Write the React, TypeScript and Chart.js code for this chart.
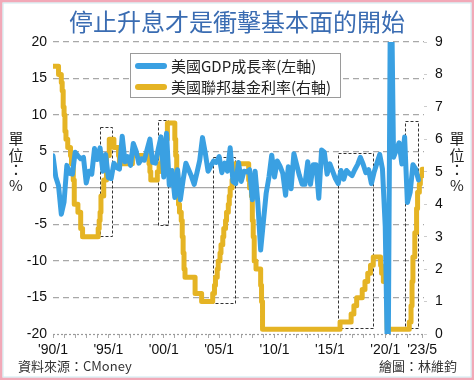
import React, { useEffect, useRef } from "react";
import { Chart, registerables } from "chart.js";

Chart.register(...registerables);

const TITLE = "停止升息才是衝擊基本面的開始";
const SOURCE = "資料來源：CMoney";
const CREDIT = "繪圖：林維鈞";
const LEGEND_GDP = "美國GDP成長率(左軸)";
const LEGEND_FED = "美國聯邦基金利率(右軸)";
const UNIT_CHARS = ["單", "位", "：", "%"];

const xTickValues = [1990, 1995, 2000, 2005, 2010, 2015, 2020, 2023.33];
const xTickLabels = ["'90/1", "'95/1", "'00/1", "'05/1", "'10/1", "'15/1", "'20/1", "'23/5"];
const xMinorYears = [
  1991, 1992, 1993, 1994, 1996, 1997, 1998, 1999, 2001, 2002, 2003, 2004, 2006, 2007, 2008, 2009,
  2011, 2012, 2013, 2014, 2016, 2017, 2018, 2019, 2021, 2022,
];

// US real GDP growth, quarterly (annualized %), 1990Q1 .. 2023Q1
const gdpFirstYear = 1990;
const gdpGrowth = [
  4.4, 1.5, 0.3, -3.6,
  -1.9, 3.1, 2.0, 1.9,
  4.9, 4.4, 4.0, 4.2,
  0.7, 2.3, 1.9, 5.4,
  3.9, 5.5, 2.3, 4.6,
  1.4, 1.3, 3.4, 2.8,
  2.6, 7.1, 3.6, 4.3,
  3.1, 6.1, 5.1, 3.4,
  4.0, 3.8, 5.3, 6.7,
  3.5, 3.4, 5.3, 7.0,
  1.5, 7.5, 0.4, 2.4,
  -1.3, 2.5, -1.6, 1.1,
  3.4, 2.5, 1.6, 0.5,
  2.1, 3.8, 6.9, 4.8,
  2.3, 3.0, 3.7, 3.5,
  4.3, 2.1, 3.4, 2.3,
  5.5, 0.9, 0.6, 3.5,
  0.9, 2.3, 2.2, 2.5,
  -1.6, 2.3, -2.1, -8.5,
  -4.6, -0.7, 1.5, 4.5,
  1.5, 3.7, 3.0, 2.0,
  -1.0, 2.9, -0.1, 4.7,
  3.2, 1.7, 0.5, 0.5,
  3.6, 0.5, 3.2, 3.2,
  -1.4, 5.2, 4.9, 1.9,
  3.3, 2.3, 1.3, 0.6,
  2.4, 1.2, 2.4, 2.0,
  1.7, 2.5, 3.2, 4.2,
  3.3, 2.1, 2.5, 0.6,
  2.2, 3.4, 4.6, 2.6,
  -5.3, -28.0, 34.8, 4.2,
  5.2, 6.2, 3.3, 7.0,
  -2.0, -0.6, 3.2, 2.6,
  1.1,
];

// Fed funds rate change points (decimal year, % level from that date)
const fedDates = [
  1990.0, 1990.5, 1990.75, 1990.83, 1990.92,
  1991.0, 1991.08, 1991.17, 1991.33, 1991.58, 1991.67, 1991.83, 1991.92,
  1992.25, 1992.5, 1992.67,
  1994.08, 1994.17, 1994.25, 1994.33, 1994.58, 1994.83, 1995.08,
  1995.5, 1995.92, 1996.0, 1997.17,
  1998.67, 1998.75, 1998.83,
  1999.42, 1999.58, 1999.83, 2000.08, 2000.17, 2000.33,
  2001.0, 2001.08, 2001.17, 2001.25, 2001.33, 2001.42, 2001.58, 2001.67, 2001.75, 2001.83, 2001.92,
  2002.83, 2003.42,
  2004.42, 2004.58, 2004.67, 2004.83, 2004.92,
  2005.08, 2005.17, 2005.33, 2005.42, 2005.58, 2005.67, 2005.83, 2005.92,
  2006.0, 2006.17, 2006.33, 2006.42,
  2007.67, 2007.75, 2007.92,
  2008.0, 2008.08, 2008.17, 2008.33, 2008.75, 2008.83, 2008.92,
  2015.92, 2016.92, 2017.17, 2017.42, 2017.92,
  2018.17, 2018.42, 2018.67, 2018.92,
  2019.58, 2019.67, 2019.83, 2020.17,
  2022.17, 2022.33, 2022.42, 2022.5, 2022.67, 2022.83, 2022.92,
  2023.08, 2023.17, 2023.33, 2023.45,
];
const fedRates = [
  8.25, 8.0, 7.75, 7.5, 7.0,
  6.75, 6.25, 6.0, 5.75, 5.5, 5.25, 4.75, 4.0,
  3.75, 3.25, 3.0,
  3.25, 3.5, 3.75, 4.25, 4.75, 5.5, 6.0,
  5.75, 5.5, 5.25, 5.5,
  5.25, 5.0, 4.75,
  5.0, 5.25, 5.5, 5.75, 6.0, 6.5,
  6.0, 5.5, 5.0, 4.5, 4.0, 3.75, 3.5, 3.0, 2.5, 2.0, 1.75,
  1.25, 1.0,
  1.25, 1.5, 1.75, 2.0, 2.25,
  2.5, 2.75, 3.0, 3.25, 3.5, 3.75, 4.0, 4.25,
  4.5, 4.75, 5.0, 5.25,
  4.75, 4.5, 4.25,
  3.5, 3.0, 2.25, 2.0, 1.5, 1.0, 0.15,
  0.37, 0.62, 0.87, 1.12, 1.37,
  1.62, 1.87, 2.12, 2.37,
  2.12, 1.87, 1.62, 0.15,
  0.37, 0.87, 1.62, 2.37, 3.12, 3.87, 4.37,
  4.62, 4.87, 5.08, 5.08,
];

// Rate-hike periods (dashed boxes), in years and right-axis %
const hikeStart = [1994.24, 1999.48, 2004.45, 2015.73, 2021.78];
const hikeEnd = [1995.33, 2000.38, 2006.43, 2018.89, 2022.96];
const hikeLow = [3.02, 3.36, 0.96, 0.18, 0.18];
const hikeHigh = [6.38, 6.6, 5.46, 5.58, 6.57];

const BLUE = "#3aa0e2";
const YELLOW = "#e5b424";
const CJK = '"Noto Sans CJK TC", "Noto Sans", sans-serif';
const NUM = '"Liberation Sans", Arial, sans-serif';

const decor = {
  id: "decor",
  beforeDraw(chart: any) {
    const ctx = chart.ctx;
    ctx.save();
    ctx.fillStyle = "#ffffff";
    ctx.fillRect(0, 0, chart.width, chart.height);
    ctx.restore();
  },
  beforeDatasetsDraw(chart: any) {
    const ctx = chart.ctx;
    const xs = chart.scales.x;
    const y1 = chart.scales.y1;
    const area = chart.chartArea;
    ctx.save();
    ctx.strokeStyle = "#9a9a9a";
    ctx.lineWidth = 1.2;
    ctx.setLineDash([2, 2]);
    ctx.beginPath();
    ctx.moveTo(area.left, Math.round(area.bottom) + 0.5);
    ctx.lineTo(area.right, Math.round(area.bottom) + 0.5);
    ctx.stroke();
    ctx.strokeStyle = "#333333";
    ctx.lineWidth = 1;
    ctx.setLineDash([3, 2]);
    for (let i = 0; i < hikeStart.length; i++) {
      const l = Math.round(xs.getPixelForValue(hikeStart[i])) + 0.5;
      const r = Math.round(xs.getPixelForValue(hikeEnd[i])) + 0.5;
      const t = Math.round(y1.getPixelForValue(hikeHigh[i])) + 0.5;
      const b = Math.round(y1.getPixelForValue(hikeLow[i])) + 0.5;
      ctx.strokeRect(l, t, r - l, b - t);
    }
    ctx.restore();
  },
  afterDraw(chart: any) {
    const ctx = chart.ctx;
    const W = chart.width;
    const H = chart.height;
    ctx.save();
    ctx.setLineDash([]);
    ctx.fillStyle = "#3a6cb2";
    ctx.font = `400 24px ${CJK}`;
    ctx.textAlign = "center";
    ctx.textBaseline = "middle";
    ctx.fillText(TITLE, 237, 22);

    ctx.fillStyle = "#ffffff";
    ctx.fillRect(130.5, 53.5, 210, 44);
    ctx.strokeStyle = "#9a9a9a";
    ctx.lineWidth = 1;
    ctx.strokeRect(130.5, 53.5, 210, 44);
    ctx.lineCap = "round";
    ctx.lineWidth = 6;
    ctx.strokeStyle = BLUE;
    ctx.beginPath();
    ctx.moveTo(138, 66);
    ctx.lineTo(164, 66);
    ctx.stroke();
    ctx.strokeStyle = YELLOW;
    ctx.beginPath();
    ctx.moveTo(138, 87);
    ctx.lineTo(164, 87);
    ctx.stroke();
    ctx.fillStyle = "#222222";
    ctx.font = `15px ${CJK}`;
    ctx.textAlign = "left";
    ctx.fillText(LEGEND_GDP, 171, 66);
    ctx.fillText(LEGEND_FED, 171, 87);

    ctx.font = `15px ${CJK}`;
    ctx.textAlign = "center";
    const ys = [138, 155, 169, 185];
    UNIT_CHARS.forEach((c, i) => {
      ctx.fillText(c, 16, ys[i]);
      ctx.fillText(c, 457, ys[i]);
    });

    ctx.fillStyle = "#333333";
    ctx.font = `13px ${CJK}`;
    ctx.textAlign = "left";
    ctx.fillText(SOURCE, 18, 366);
    ctx.textAlign = "right";
    ctx.fillText(CREDIT, 457, 366);

    ctx.strokeStyle = "#f2a9b8";
    ctx.lineWidth = 2.5;
    ctx.strokeRect(1.25, 1.25, W - 2.5, H - 2.5);
    ctx.strokeStyle = "#cbeaf0";
    ctx.lineWidth = 1;
    ctx.strokeRect(3, 3, W - 6, H - 6);
    ctx.restore();
  },
};

export default function App() {
  const ref = useRef<HTMLCanvasElement | null>(null);

  useEffect(() => {
    document.body.style.margin = "0";
    const canvas = ref.current;
    if (!canvas) return;
    const gdpPoints = gdpGrowth.map((v, i) => ({ x: gdpFirstYear + i * 0.25, y: v }));
    const fedPoints = fedRates.map((v, i) => ({ x: fedDates[i], y: v }));
    const allX = [...xTickValues, ...xMinorYears].sort((a, b) => a - b);

    const chart = new Chart(canvas, {
      type: "line",
      data: {
        datasets: [
          {
            label: LEGEND_GDP,
            data: gdpPoints,
            yAxisID: "y",
            borderColor: BLUE,
            backgroundColor: BLUE,
            borderWidth: 5,
            pointRadius: 0,
            tension: 0,
            borderJoinStyle: "round",
            borderCapStyle: "round",
            clip: 0,
          },
          {
            label: LEGEND_FED,
            data: fedPoints,
            yAxisID: "y1",
            borderColor: YELLOW,
            backgroundColor: YELLOW,
            borderWidth: 5,
            pointRadius: 0,
            stepped: "before",
            borderJoinStyle: "round",
            borderCapStyle: "round",
            clip: 0,
          },
        ],
      },
      options: {
        animation: false,
        responsive: false,
        layout: { padding: { top: 42, left: 0, right: 0, bottom: 0 } },
        plugins: {
          legend: { display: false },
          tooltip: { enabled: false },
          title: { display: false },
        },
        scales: {
          x: {
            type: "linear",
            min: 1990,
            max: 2023.5,
            afterBuildTicks: (s: any) => {
              s.ticks = allX.map((v) => ({ value: v }));
            },
            afterFit: (s: any) => {
              s.height = 46;
            },
            ticks: {
              autoSkip: false,
              maxRotation: 0,
              minRotation: 0,
              padding: 4,
              color: "#111111",
              font: { family: NUM, size: 14 },
              callback: (v: any) => {
                const idx = xTickValues.indexOf(Number(v));
                return idx >= 0 ? xTickLabels[idx] : "";
              },
            },
            grid: {
              drawOnChartArea: false,
              drawTicks: true,
              tickLength: 4,
              color: "#aaaaaa",
              lineWidth: 1,
            },
            border: { display: false },
          },
          y: {
            position: "left",
            min: -20,
            max: 20,
            afterFit: (s: any) => {
              s.width = 53;
            },
            ticks: {
              stepSize: 5,
              padding: 6,
              color: "#111111",
              font: { family: NUM, size: 14 },
            },
            grid: {
              drawTicks: false,
              color: (c: any) => (c.tick && c.tick.value === -20 ? "rgba(0,0,0,0)" : "#a8a8a8"),
              lineWidth: 1.3,
            },
            border: {
              display: false,
              dash: (c: any) => (c.tick && c.tick.value === 0 ? [] : [6, 4]),
            },
          },
          y1: {
            position: "right",
            min: 0,
            max: 9,
            afterFit: (s: any) => {
              s.width = 50;
            },
            ticks: {
              stepSize: 1,
              padding: 8,
              color: "#111111",
              font: { family: NUM, size: 14 },
            },
            grid: {
              drawOnChartArea: false,
              drawTicks: true,
              tickLength: 3,
              color: "#cccccc",
            },
            border: { display: false },
          },
        },
      },
      plugins: [decor],
    } as any);

    return () => {
      chart.destroy();
    };
  }, []);

  return (
    <div style={{ position: "fixed", left: 0, top: 0, width: 474, height: 380, background: "#fff" }}>
      <canvas ref={ref} width={474} height={380} style={{ display: "block", width: 474, height: 380 }} />
    </div>
  );
}
